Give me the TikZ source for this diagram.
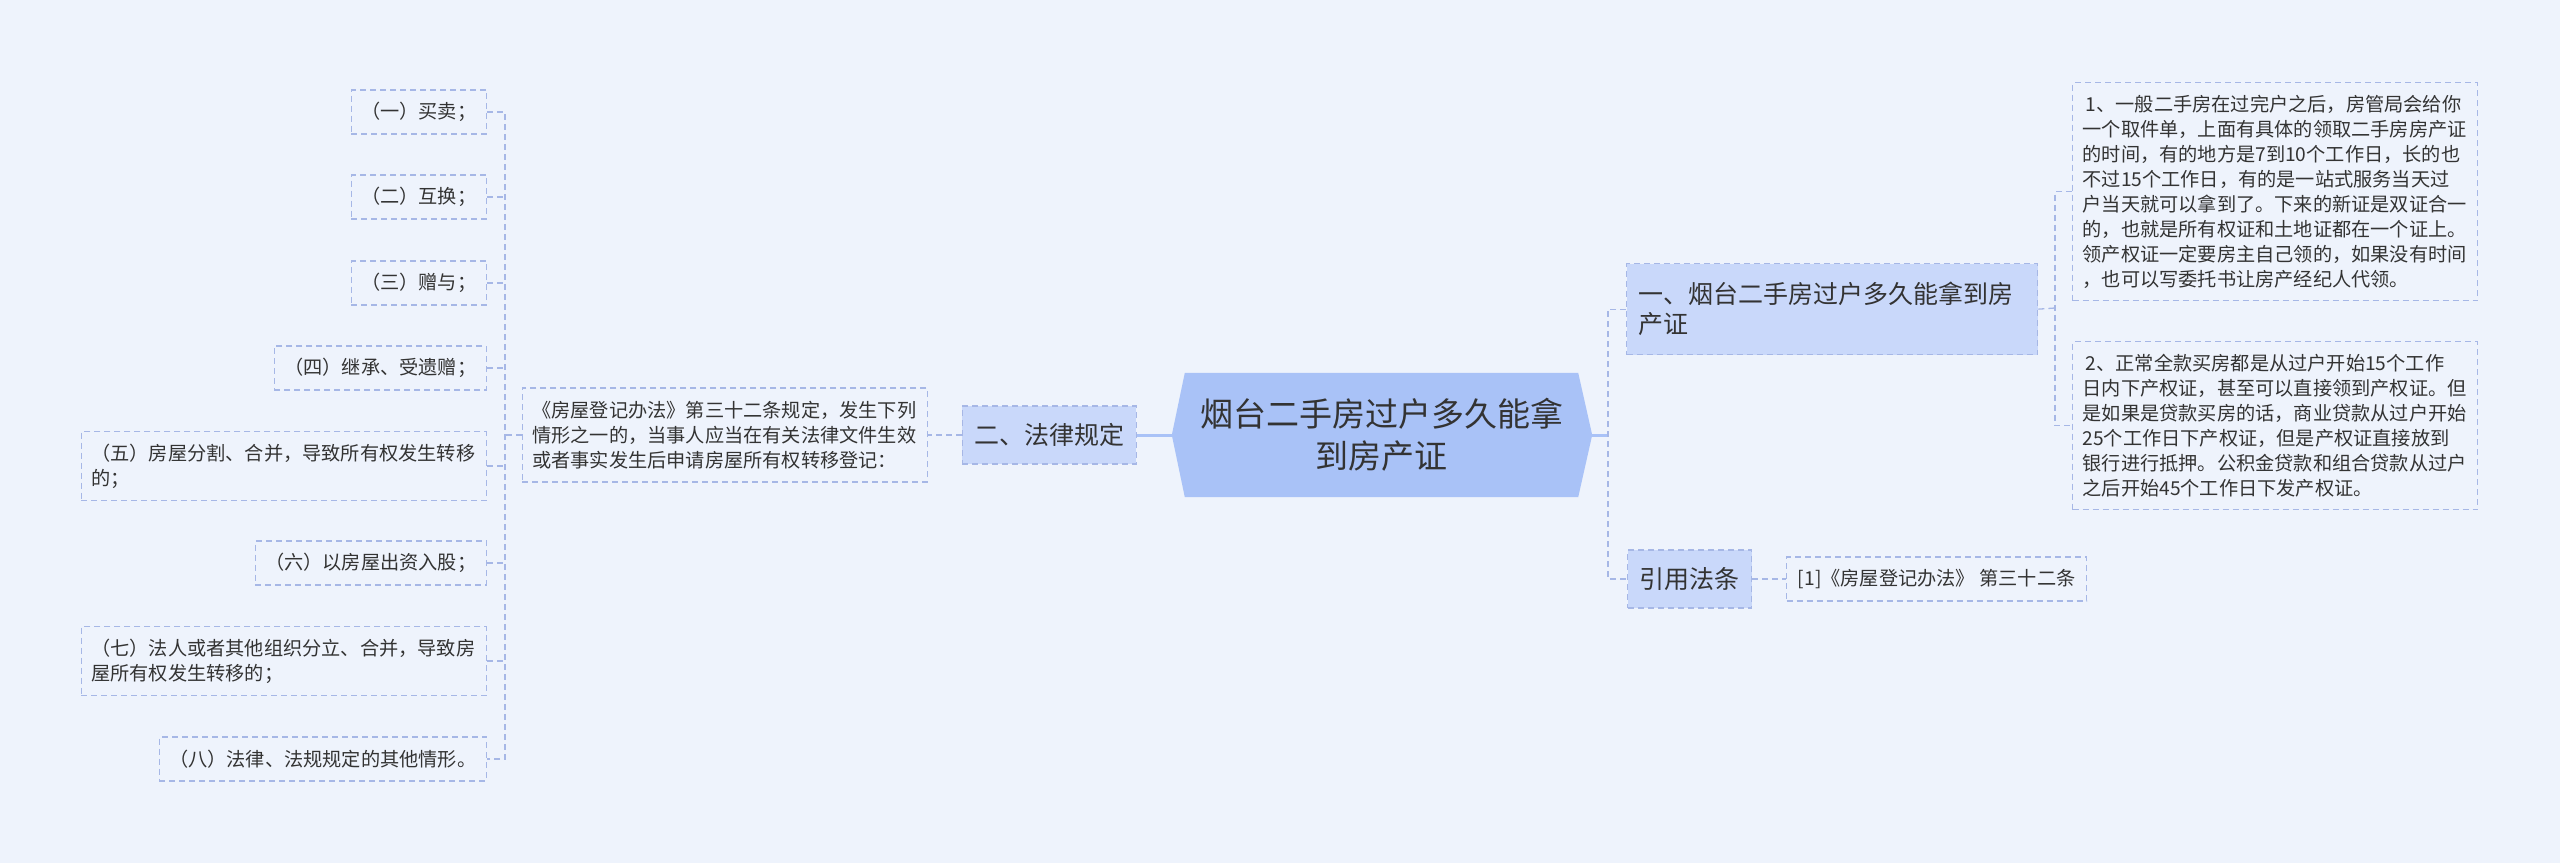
\documentclass[tikz,border=0pt]{standalone}
\usepackage{fontspec}
\setmainfont{Noto Sans CJK SC}
\usetikzlibrary{backgrounds}
\definecolor{bgc}{HTML}{EEF3FC}
\definecolor{hexfill}{HTML}{A9C2F7}
\definecolor{brfill}{HTML}{C9D8FA}
\definecolor{dashc}{HTML}{A6B7E6}
\definecolor{txtc}{HTML}{333333}
\newcommand\leaffont{\fontsize{19.2}{25}\selectfont}
\newcommand\brfont{\fontsize{25}{30}\selectfont}
\newcommand\cenfont{\fontsize{33}{42}\selectfont}
\tikzset{
  dashbox/.style={draw=dashc, line width=1.3pt, dash pattern=on 6pt off 4pt},
  leaf/.style={dashbox, text=txtc, font=\leaffont, inner xsep=10pt, inner ysep=4pt, minimum height=44pt, align=left},
  leafwide/.style={leaf, text width=385pt},
  branch/.style={dashbox, fill=brfill, text=txtc, font=\brfont, inner xsep=12pt, inner ysep=4pt, minimum height=58pt},
  centre/.style={text=txtc, font=\cenfont, align=center, minimum width=393pt, minimum height=124pt, inner sep=0pt},
  solidcon/.style={draw=hexfill, line width=3pt},
  dashcon/.style={draw=dashc, line width=1.3pt, dash pattern=on 6pt off 4pt}
}
\begin{document}
\begin{tikzpicture}[x=1pt, y=-1pt]
\useasboundingbox (0,0) rectangle (2560,863);
% central
\node[centre] (c) at (1381.5,435) {烟台二手房过户多久能拿\\到房产证};
% right branches
\node[branch, anchor=north west, minimum width=411pt, minimum height=91pt, text width=387pt, align=left, inner xsep=12pt] (b1) at (1626,263) {一、烟台二手房过户多久能拿到房\\产证};
\node[branch, anchor=west, minimum width=124pt] (b3) at (1627,579) {引用法条};
\node[leafwide, anchor=north west, minimum height=218pt] (t1) at (2072,82) {\,1、一般二手房在过完户之后，房管局会给你\\一个取件单，上面有具体的领取二手房房产证\\的时间，有的地方是7到10个工作日，长的也\\不过15个工作日，有的是一站式服务当天过\\户当天就可以拿到了。下来的新证是双证合一\\的，也就是所有权证和土地证都在一个证上。\\领产权证一定要房主自己领的，如果没有时间\\，也可以写委托书让房产经纪人代领。};
\node[leafwide, anchor=north west, minimum height=168pt] (t2) at (2072,341) {\,2、正常全款买房都是从过户开始15个工作\\日内下产权证，甚至可以直接领到产权证。但\\是如果是贷款买房的话，商业贷款从过户开始\\25个工作日下产权证，但是产权证直接放到\\银行进行抵押。公积金贷款和组合贷款从过户\\之后开始45个工作日下发产权证。};
\node[leaf, anchor=west, minimum width=300pt] (ref) at (1786,579) {[1]《房屋登记办法》 第三十二条};
% left branch
\node[branch, anchor=east, minimum width=174pt] (b2) at (1137,435) {二、法律规定};
\node[leafwide, anchor=east, minimum height=94pt] (law) at (928,435) {《房屋登记办法》第三十二条规定，发生下列\\情形之一的，当事人应当在有关法律文件生效\\或者事实发生后申请房屋所有权转移登记：};
\node[leaf, anchor=east] (i1) at (487,112) {（一）买卖；};
\node[leaf, anchor=east] (i2) at (487,197) {（二）互换；};
\node[leaf, anchor=east] (i3) at (487,283) {（三）赠与；};
\node[leaf, anchor=east] (i4) at (487,368) {（四）继承、受遗赠；};
\node[leafwide, anchor=east, minimum height=69pt] (i5) at (487,466) {（五）房屋分割、合并，导致所有权发生转移\\的；};
\node[leaf, anchor=east] (i6) at (487,563) {（六）以房屋出资入股；};
\node[leafwide, anchor=east, minimum height=69pt] (i7) at (487,661) {（七）法人或者其他组织分立、合并，导致房\\屋所有权发生转移的；};
\node[leaf, anchor=east] (i8) at (487,759) {（八）法律、法规规定的其他情形。};
% junctions
\coordinate (j1) at (1608,435);
\coordinate (j2) at (2055,308);
\coordinate (j3) at (505,435);
% background and hexagon
\begin{pgfonlayer}{background}
\fill[bgc] (0,0) rectangle (2560,863);
\fill[hexfill] (c.north west) -- (c.north east) -- ([xshift=14pt]c.east) -- (c.south east) -- (c.south west) -- ([xshift=-13pt]c.west) -- cycle;
\end{pgfonlayer}
% connectors
\draw[solidcon] ([xshift=13pt]c.east) -- (j1);
\draw[solidcon] ([xshift=-12pt]c.west) -- (b2.east);
\draw[dashcon] (b1.west) -| (j1) |- (b3.west);
\draw[dashcon] (b1.east) -- (j2);
\draw[dashcon] (t1.west) -| (j2) |- (t2.west);
\draw[dashcon] (b3.east) -- (ref.west);
\draw[dashcon] (b2.west) -- (law.east);
\draw[dashcon] (law.west) -- (j3);
\draw[dashcon] (i1.east) -| (j3) |- (i8.east);
\foreach \n in {i2,i3,i4,i5,i6,i7} { \draw[dashcon] (\n.east) -- (\n.east -| j3); }
\end{tikzpicture}
\end{document}
